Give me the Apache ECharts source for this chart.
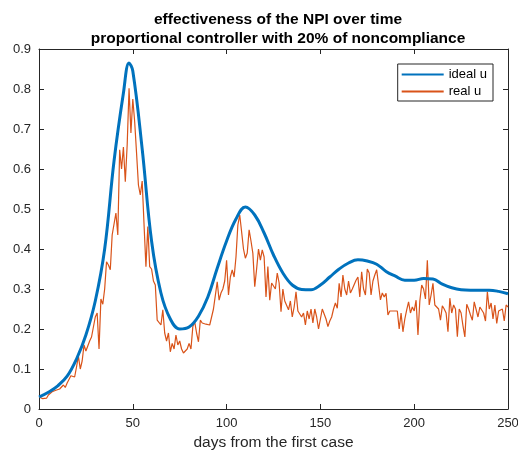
<!DOCTYPE html>
<html>
<head>
<meta charset="utf-8">
<script src="https://cdn.jsdelivr.net/npm/echarts@6/dist/echarts.min.js"></script>
<style>html,body{margin:0;padding:0;background:#fff;overflow:hidden;}#c{width:518px;height:455px;}</style>
</head>
<body>
<div id="c"></div>
<script>
const titleLines = ['effectiveness of the NPI over time', 'proportional controller with 20% of noncompliance'];
const xLabel = 'days from the first case';
const legendNames = ['ideal u', 'real u'];
const xTicks = [0, 50, 100, 150, 200, 250];
const yTicks = [0, 0.1, 0.2, 0.3, 0.4, 0.5, 0.6, 0.7, 0.8, 0.9];

const idealDays = [0,5,10,15,20,25,30,35,40,45,48,50,55,60,65,70,75,80,85,90,95,100,105,110,115,120,125,130,135,140,145,150,155,160,165,170,175,180,185,190,195,200,205,210,215,220,225,230,235,240,245,250];
const idealU = [0.030,0.042,0.058,0.082,0.125,0.185,0.270,0.400,0.620,0.790,0.865,0.845,0.650,0.420,0.290,0.225,0.200,0.205,0.232,0.280,0.352,0.420,0.475,0.505,0.485,0.440,0.385,0.340,0.310,0.299,0.298,0.310,0.330,0.350,0.365,0.373,0.370,0.362,0.344,0.332,0.322,0.322,0.326,0.325,0.312,0.303,0.298,0.297,0.297,0.297,0.294,0.288];

// real u, one value per day (day 0 .. 250)
const realU = [
0.030,0.030,0.026,0.025,0.027,0.035,0.040,0.043,0.045,0.047,
0.048,0.050,0.052,0.060,0.054,0.065,0.070,0.083,0.082,0.080,
0.105,0.132,0.100,0.120,0.160,0.145,0.150,0.170,0.180,0.182,
0.230,0.240,0.150,0.275,0.262,0.300,0.368,0.360,0.348,0.435,
0.440,0.490,0.435,0.648,0.600,0.655,0.568,0.660,0.802,0.690,
0.775,0.718,0.640,0.560,0.535,0.570,0.460,0.356,0.456,0.356,
0.350,0.320,0.310,0.222,0.225,0.210,0.248,0.190,0.170,0.190,
0.143,0.164,0.150,0.185,0.160,0.170,0.150,0.140,0.135,0.150,
0.164,0.150,0.206,0.218,0.190,0.168,0.222,0.215,0.220,0.212,
0.215,0.210,0.230,0.250,0.245,0.318,0.272,0.290,0.300,0.320,
0.372,0.285,0.330,0.348,0.330,0.380,0.460,0.485,0.443,0.400,
0.377,0.390,0.448,0.420,0.389,0.306,0.350,0.400,0.372,0.398,
0.380,0.280,0.356,0.272,0.315,0.318,0.300,0.340,0.315,0.243,
0.300,0.270,0.275,0.248,0.270,0.230,0.255,0.293,0.245,0.248,
0.230,0.240,0.210,0.245,0.225,0.250,0.215,0.250,0.230,0.200,
0.225,0.250,0.245,0.225,0.206,0.220,0.230,0.250,0.265,0.252,
0.314,0.280,0.335,0.300,0.285,0.320,0.290,0.300,0.305,0.322,
0.330,0.280,0.343,0.300,0.285,0.350,0.340,0.285,0.320,0.335,
0.348,0.310,0.273,0.290,0.280,0.289,0.235,0.245,0.240,0.245,
0.243,0.245,0.200,0.240,0.193,0.225,0.248,0.268,0.240,0.255,
0.245,0.272,0.185,0.270,0.310,0.300,0.275,0.372,0.260,0.285,
0.314,0.260,0.255,0.250,0.222,0.258,0.250,0.240,0.193,0.277,
0.240,0.260,0.250,0.181,0.250,0.240,0.208,0.180,0.262,0.250,
0.235,0.222,0.268,0.265,0.230,0.255,0.250,0.240,0.220,0.293,
0.250,0.265,0.225,0.260,0.214,0.245,0.240,0.250,0.220,0.260,
0.255
];

const axisColor = '#262626';
const font = 'Liberation Sans, Arial, Helvetica, sans-serif';

const idealData = idealDays.map((d, i) => [d, idealU[i]]);
const realData = realU.map((v, i) => [i, v]);

const chart = echarts.init(document.getElementById('c'), null, {renderer: 'canvas', width: 518, height: 455});
const baseX = {
  type: 'value', min: xTicks[0], max: xTicks[xTicks.length - 1], interval: 50,
  axisLine: {show: true, onZero: false, lineStyle: {color: axisColor, width: 1}},
  axisTick: {show: true, inside: true, length: 5, lineStyle: {color: axisColor}},
  splitLine: {show: false}
};
const baseY = {
  type: 'value', min: yTicks[0], max: yTicks[yTicks.length - 1], interval: 0.1,
  axisLine: {show: true, onZero: false, lineStyle: {color: axisColor, width: 1}},
  axisTick: {show: true, inside: true, length: 5, lineStyle: {color: axisColor}},
  splitLine: {show: false}
};
chart.setOption({
  animation: false,
  backgroundColor: '#fff',
  title: {
    text: titleLines.join('\n'),
    left: 273, top: 5, textAlign: 'center',
    textStyle: {fontFamily: font, fontWeight: 'bold', fontSize: 15.5, color: '#000', lineHeight: 19}
  },
  grid: {left: 39, right: 10, top: 49, bottom: 46, containLabel: false, outerBoundsMode: 'none'},
  legend: {
    data: legendNames,
    orient: 'vertical', right: 25, top: 64,
    itemWidth: 42, itemHeight: 14, itemGap: 4,
    padding: [4, 6, 3, 3],
    borderColor: '#262626', borderWidth: 1, backgroundColor: '#fff',
    itemStyle: {opacity: 0},
    textStyle: {fontFamily: font, fontSize: 13, color: '#000'}
  },
  xAxis: [
    Object.assign({}, baseX, {
      position: 'bottom',
      name: xLabel, nameLocation: 'middle', nameGap: 24,
      nameTextStyle: {fontFamily: font, fontSize: 15.5, color: axisColor},
      axisLabel: {show: true, margin: 8, fontFamily: font, fontSize: 13, color: axisColor}
    }),
    Object.assign({}, baseX, {position: 'top', axisLabel: {show: false}})
  ],
  yAxis: [
    Object.assign({}, baseY, {
      position: 'left',
      axisLabel: {show: true, margin: 8, fontFamily: font, fontSize: 13, color: axisColor}
    }),
    Object.assign({}, baseY, {position: 'right', axisLabel: {show: false}})
  ],
  series: [
    {
      name: legendNames[0], type: 'line', data: idealData, smooth: 0.4,
      symbol: 'none', xAxisIndex: 0, yAxisIndex: 0,
      lineStyle: {color: '#0072BD', width: 3}, itemStyle: {color: '#0072BD'}, z: 3
    },
    {
      name: legendNames[1], type: 'line', data: realData,
      symbol: 'none', xAxisIndex: 0, yAxisIndex: 0,
      lineStyle: {color: '#D95319', width: 1.2}, itemStyle: {color: '#D95319'}, z: 2
    }
  ]
});
</script>
</body>
</html>
